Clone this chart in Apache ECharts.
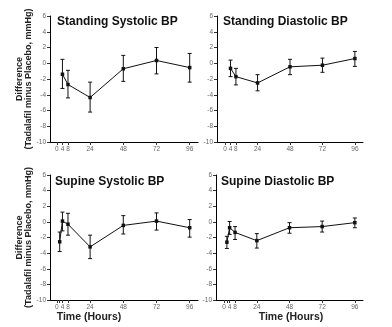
<!DOCTYPE html>
<html><head><meta charset="utf-8">
<script src="https://cdn.jsdelivr.net/npm/echarts@6/dist/echarts.min.js"></script>
<style>html,body{margin:0;padding:0;background:#fff}#c{width:392px;height:327px}</style>
</head><body><div id="c"></div>
<script>
var titles = ['Standing Systolic BP', 'Standing Diastolic BP', 'Supine Systolic BP', 'Supine Diastolic BP'];
var yTicks = [-10, -8, -6, -4, -2, 0, 2, 4, 6];
var xTickLabels = [0, 4, 8, 24, 48, 72, 96];
var standingHours = [4, 8, 24, 48, 72, 96];
var supineHours = [2, 4, 8, 24, 48, 72, 96];

var standSysMean = [-1.4, -2.7, -4.35, -0.7, 0.35, -0.55];
var standSysLow  = [-3.2, -4.4, -6.2, -2.3, -1.35, -2.4];
var standSysHigh = [0.5, -0.9, -2.4, 1.0, 2.0, 1.25];

var standDiaMean = [-0.65, -1.7, -2.5, -0.45, -0.25, 0.6];
var standDiaLow  = [-1.7, -2.75, -3.5, -1.45, -1.15, -0.4];
var standDiaHigh = [0.4, -0.65, -1.45, 0.5, 0.65, 1.5];

var supSysMean = [-2.55, 0.1, -0.3, -3.2, -0.45, 0.1, -0.75];
var supSysLow  = [-3.8, -1.15, -1.7, -4.7, -1.55, -1.05, -1.95];
var supSysHigh = [-1.3, 1.25, 1.1, -1.7, 0.8, 1.15, 0.3];

var supDiaMean = [-2.6, -0.75, -1.35, -2.4, -0.75, -0.6, -0.1];
var supDiaLow  = [-3.4, -1.6, -2.25, -3.35, -1.45, -1.3, -0.75];
var supDiaHigh = [-1.85, 0.05, -0.6, -1.5, -0.1, 0.1, 0.5];

var yName = 'Difference\n(Tadalafil minus Placebo, mmHg)';
var xName = 'Time (Hours)';

var panels = [
  {hours: standingHours, mean: standSysMean, low: standSysLow, high: standSysHigh},
  {hours: standingHours, mean: standDiaMean, low: standDiaLow, high: standDiaHigh},
  {hours: supineHours, mean: supSysMean, low: supSysLow, high: supSysHigh},
  {hours: supineHours, mean: supDiaMean, low: supDiaLow, high: supDiaHigh}
];

var grids = [
  {left: 50, top: 16, width: 148, height: 126},
  {left: 217, top: 16, width: 146, height: 126},
  {left: 50, top: 175, width: 148, height: 125},
  {left: 216, top: 175, width: 147, height: 125}
];
var xMin = [-5, -6, -5, -6], xMax = [102, 102, 102, 102];

var FONT = '"Liberation Sans", Arial, sans-serif';
var option = {
  animation: false,
  backgroundColor: '#fff',
  grid: grids,
  xAxis: [], yAxis: [], series: [], title: [],
  graphic: []
};
panels.forEach(function (p, i) {
  option.xAxis.push({
    type: 'value', gridIndex: i, min: xMin[i], max: xMax[i],
    splitLine: {show: false},
    axisLine: {show: true, onZero: false, lineStyle: {color: '#000', width: 1}},
    axisTick: {show: true, length: 3, customValues: i >= 2 ? [0, 2, 4, 8, 24, 48, 72, 96] : xTickLabels, lineStyle: {color: '#333'}},
    axisLabel: {customValues: xTickLabels, fontSize: 6.5, color: '#666', margin: 4, fontFamily: FONT}
  });
  option.yAxis.push({
    type: 'value', gridIndex: i, min: -10, max: 6, interval: 2,
    splitLine: {show: false},
    axisLine: {show: true, onZero: false, lineStyle: {color: '#000', width: 1}},
    axisTick: {show: true, length: 3, lineStyle: {color: '#333'}},
    axisLabel: {fontSize: 6.5, color: '#666', margin: 4, fontFamily: FONT},
    name: (i % 2 === 0) ? yName : '',
    nameLocation: 'middle', nameRotate: 90, nameGap: 17,
    nameTextStyle: {fontSize: 9, fontWeight: 'bold', color: '#222', lineHeight: 9, fontFamily: FONT}
  });
  var line = p.hours.map(function (h, k) { return [h, p.mean[k]]; });
  var err = p.hours.map(function (h, k) { return [h, p.low[k], p.high[k]]; });
  option.series.push({
    type: 'custom', xAxisIndex: i, yAxisIndex: i, data: err,
    renderItem: function (params, api) {
      var lo = api.coord([api.value(0), api.value(1)]);
      var hi = api.coord([api.value(0), api.value(2)]);
      var w = 2;
      var st = {stroke: '#111', lineWidth: 1};
      return {type: 'group', children: [
        {type: 'line', shape: {x1: lo[0], y1: lo[1], x2: hi[0], y2: hi[1]}, style: st},
        {type: 'line', shape: {x1: lo[0] - w, y1: lo[1], x2: lo[0] + w, y2: lo[1]}, style: st},
        {type: 'line', shape: {x1: hi[0] - w, y1: hi[1], x2: hi[0] + w, y2: hi[1]}, style: st}
      ]};
    },
    z: 2
  });
  option.series.push({
    type: 'line', xAxisIndex: i, yAxisIndex: i, data: line,
    symbol: 'rect', symbolSize: 3.5, showSymbol: true,
    lineStyle: {color: '#111', width: 1}, itemStyle: {color: '#111'}, z: 3
  });
});
var titlePos = [[57, 16], [223, 16], [55, 176], [221, 176]];
titles.forEach(function (t, i) {
  option.title.push({text: t, left: titlePos[i][0], top: titlePos[i][1], padding: 0,
    textStyle: {fontSize: 12, fontWeight: 'bold', color: '#111', fontFamily: FONT}});
});
[[89, 317], [291, 317]].forEach(function (pos) {
  option.graphic.push({type: 'text', x: pos[0], y: pos[1],
    style: {text: xName, fontSize: 10.5, fontWeight: 'bold', fill: '#222', align: 'center', verticalAlign: 'middle', fontFamily: FONT}});
});
var chart = echarts.init(document.getElementById('c'), null, {renderer: 'canvas'});
chart.setOption(option);
</script></body></html>
